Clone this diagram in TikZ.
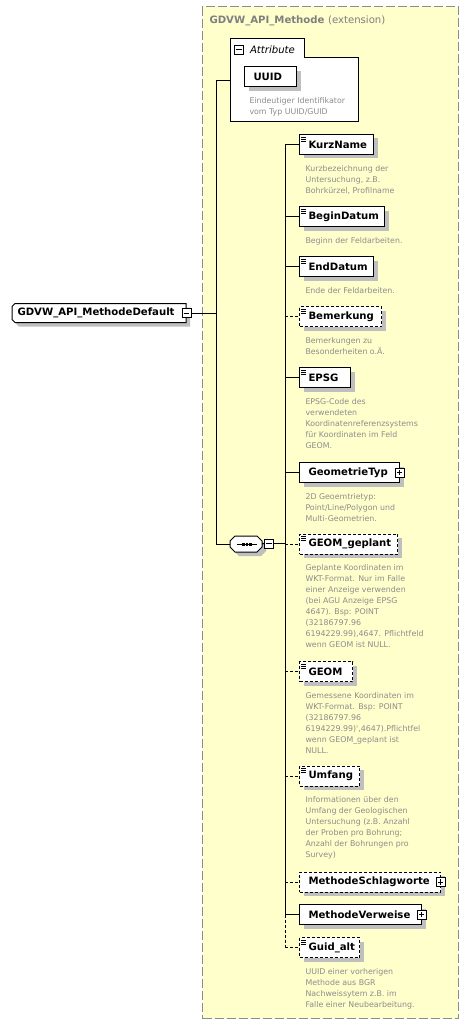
\documentclass[tikz,border=0pt]{standalone}
\usepackage{fontspec}
\setmainfont{DejaVu Sans}
\usetikzlibrary{shadows}
\definecolor{extfill}{HTML}{FFFFCC}
\definecolor{extline}{HTML}{8C8C8C}
\definecolor{desccol}{HTML}{8C8C8C}
\definecolor{titlecol}{HTML}{7F7F7F}
\definecolor{shcol}{HTML}{BFBFBF}
\tikzset{
  px/.style={x=0.75pt,y=-0.75pt},
  conn/.style={line width=0.75pt},
  optconn/.style={conn, dash pattern=on 2.25pt off 1.5pt},
  shad/.style={drop shadow={shadow xshift=3pt, shadow yshift=-3pt, fill=shcol, opacity=1}},
  elbox/.style={draw, fill=white, line width=0.75pt, minimum height=15pt, inner sep=0pt, anchor=west, shad},
  optbox/.style={dash pattern=on 2.25pt off 1.5pt},
  lbl/.style={font=\bfseries\fontsize{7.6}{9}\selectfont, inner sep=0pt, anchor=west},
  desc/.style={font=\fontsize{5.9}{8.25}\selectfont, text=desccol, align=left, inner sep=0pt, anchor=north west},
  pmbox/.style={draw, fill=white, line width=0.75pt, minimum size=6.75pt, inner sep=0pt},
  icon/.style={line width=0.6pt},
  anchorbox/.style={inner sep=0pt, anchor=west},
}
\newcommand\xelem[5]{%
  \node[elbox,#5,minimum width=#3*0.75pt] (#1) at (299,#2) {};
  \node[lbl] (#1-t) at ([xshift=6.75pt]#1.west) {#4};
}
\newcommand\xicon[1]{%
  \foreach \d in {2.25pt,3.75pt,5.25pt}{\draw[icon] ([xshift=1.5pt,yshift=-\d]#1.north west) -- ++(5,0);}
}
\newcommand\xdesc[2]{%
  \node[desc] (#1-d) at ([xshift=4.5pt,yshift=-7.5pt]#1.south west) {#2};
}
\newcommand\xminus[3]{%
  \node[pmbox] (#1) at (#2,#3) {};
  \draw[conn] ([xshift=-1.9pt]#1.center) -- ([xshift=1.9pt]#1.center);
}
\newcommand\xplus[3]{%
  \node[pmbox] (#1) at (#2,#3) {};
  \draw[conn] ([xshift=-1.9pt]#1.center) -- ([xshift=1.9pt]#1.center);
  \draw[conn] ([yshift=-1.9pt]#1.center) -- ([yshift=1.9pt]#1.center);
}
\begin{document}
\begin{tikzpicture}[px, line width=0.75pt]
\useasboundingbox (0,0) rectangle (469,1027);
% extension container
\node[draw=extline, fill=extfill, line width=1pt, dash pattern=on 6.75pt off 2.25pt,
      minimum width=192pt, minimum height=759pt, inner sep=0pt, anchor=north west] (ext) at (202,6) {};
\node[anchor=base west, inner sep=0pt, text=titlecol, font=\bfseries\fontsize{7.6}{9}\selectfont] (title) at (209,23.5)
  {GDVW\_API\_Methode {\mdseries(extension)}};
% attribute group
\draw[fill=white] (230,122) -- (230,39) -- (304,39) -- (304,58) -- (358,58) -- (358,122) -- cycle;
\coordinate (attrL) at (230,81);
\xminus{attrpm}{239}{50}
\node[anchor=west, inner sep=0pt, font=\itshape\fontsize{7.6}{9}\selectfont] (attrT) at (249.5,49.5) {Attribute};
\node[elbox, minimum width=39pt] (uuid) at (244,77) {};
\node[lbl] (uuid-t) at ([xshift=6.75pt]uuid.west) {UUID};
\node[desc] (uuid-d) at ([xshift=3.75pt,yshift=-7.5pt]uuid.south west) {Eindeutiger Identifikator\\vom Typ UUID/GUID};
% root element
\node[anchorbox, minimum width=130.5pt, minimum height=14.25pt] (root) at (12,313) {};
\begin{scope}[shift={(root.west)}]
  \fill[shcol] (7,-5.5) -- (178,-5.5) -- (178,13.5) -- (7,13.5) -- (4,10.5) -- (4,-2.5) -- cycle;
  \draw[fill=white] (3,-9.5) -- (174,-9.5) -- (174,9.5) -- (3,9.5) -- (0,6.5) -- (0,-6.5) -- cycle;
\end{scope}
\node[lbl] (root-t) at ([xshift=3.75pt]root.west) {GDVW\_API\_MethodeDefault};
\xminus{rootpm}{186.5}{313}
% sequence compositor
\node[anchorbox, minimum width=24pt, minimum height=12pt] (seq) at (230,544) {};
\begin{scope}[shift={(seq.west)}]
  \fill[shcol] (9,-4) -- (31,-4) -- (36,1) -- (36,7) -- (31,12) -- (9,12) -- (4,7) -- (4,1) -- cycle;
  \draw[fill=white] (5,-8) -- (27,-8) -- (32,-3) -- (32,3) -- (27,8) -- (5,8) -- (0,3) -- (0,-3) -- cycle;
\end{scope}
\draw[conn] ([xshift=-7.5pt]seq.center) -- ([xshift=7.5pt]seq.center);
\foreach \s in {-3.4pt,-0.75pt,1.9pt}{\fill ([xshift=\s,yshift=1.1pt]seq.center) rectangle ++(2.6,3);}
\xminus{seqpm}{269}{543.5}
% elements
\xelem{kurz}{144.5}{74}{KurzName}{solid}\xicon{kurz}
\xdesc{kurz}{Kurzbezeichnung der\\Untersuchung, z.B.\\Bohrkürzel, Profilname}
\xelem{begin}{216.5}{85}{BeginDatum}{solid}\xicon{begin}
\xdesc{begin}{Beginn der Feldarbeiten.}
\xelem{end}{266.5}{74}{EndDatum}{solid}\xicon{end}
\xdesc{end}{Ende der Feldarbeiten.}
\xelem{bem}{316.5}{82}{Bemerkung}{optbox}\xicon{bem}
\xdesc{bem}{Bemerkungen zu\\Besonderheiten o.Ä.}
\xelem{epsg}{377.5}{51}{EPSG}{solid}\xicon{epsg}
\xdesc{epsg}{EPSG-Code des\\verwendeten\\Koordinatenreferenzsystems\\für Koordinaten im Feld\\GEOM.}
\xelem{geotyp}{472.5}{100}{GeometrieTyp}{solid}
\xplus{geotyppm}{399.5}{472.5}
\xdesc{geotyp}{2D Geoemtrietyp:\\Point/Line/Polygon und\\Multi-Geometrien.}
\xelem{geomg}{544}{98}{GEOM\_geplant}{optbox}\xicon{geomg}
\xdesc{geomg}{Geplante Koordinaten im\\WKT-Format. Nur im Falle\\einer Anzeige verwenden\\(bei AGU Anzeige EPSG\\4647). Bsp: POINT\\(32186797.96\\6194229.99),4647. Pflichtfeld\\wenn GEOM ist NULL.}
\xelem{geom}{671.5}{53}{GEOM}{optbox}\xicon{geom}
\xdesc{geom}{Gemessene Koordinaten im\\WKT-Format. Bsp: POINT\\(32186797.96\\6194229.99)\textquotesingle,4647).Pflichtfel\\wenn GEOM\_geplant ist\\NULL.}
\xelem{umf}{776}{60}{Umfang}{optbox}\xicon{umf}
\xdesc{umf}{Informationen über den\\Umfang der Geologischen\\Untersuchung (z.B. Anzahl\\der Proben pro Bohrung;\\Anzahl der Bohrungen pro\\Survey)}
\xelem{schlag}{882}{141}{MethodeSchlagworte}{optbox}
\xplus{schlagpm}{440.5}{882}
\xelem{verw}{914.5}{122}{MethodeVerweise}{solid}
\xplus{verwpm}{421.5}{914.5}
\xelem{guid}{947.5}{60}{Guid\_alt}{optbox}\xicon{guid}
\xdesc{guid}{UUID einer vorherigen\\Methode aus BGR\\Nachweissytem z.B. im\\Falle einer Neubearbeitung.}
% connectors
\coordinate (t1) at (216,81);
\coordinate (t2) at (285,544);
\draw[conn] (rootpm.east) -- (rootpm.east -| t1);
\draw[conn] (t1) -- (attrL);
\draw[conn] (t1) -- (t1 |- seq.west) -- (seq.west);
\draw[conn] ([xshift=24pt]seq.west) -- (seqpm.west);
\draw[conn] (seqpm.east) -- (seqpm.east -| t2);
\draw[conn] (t2 |- kurz.west) -- (t2 |- verw.west);
\draw[optconn] (t2 |- verw.west) -- (t2 |- guid.west);
\foreach \n in {kurz,begin,end,epsg,geotyp,verw}{\draw[conn] (t2 |- \n.west) -- (\n.west);}
\foreach \n in {bem,geomg,geom,umf,schlag,guid}{\draw[optconn] (t2 |- \n.west) -- (\n.west);}
\end{tikzpicture}
\end{document}
